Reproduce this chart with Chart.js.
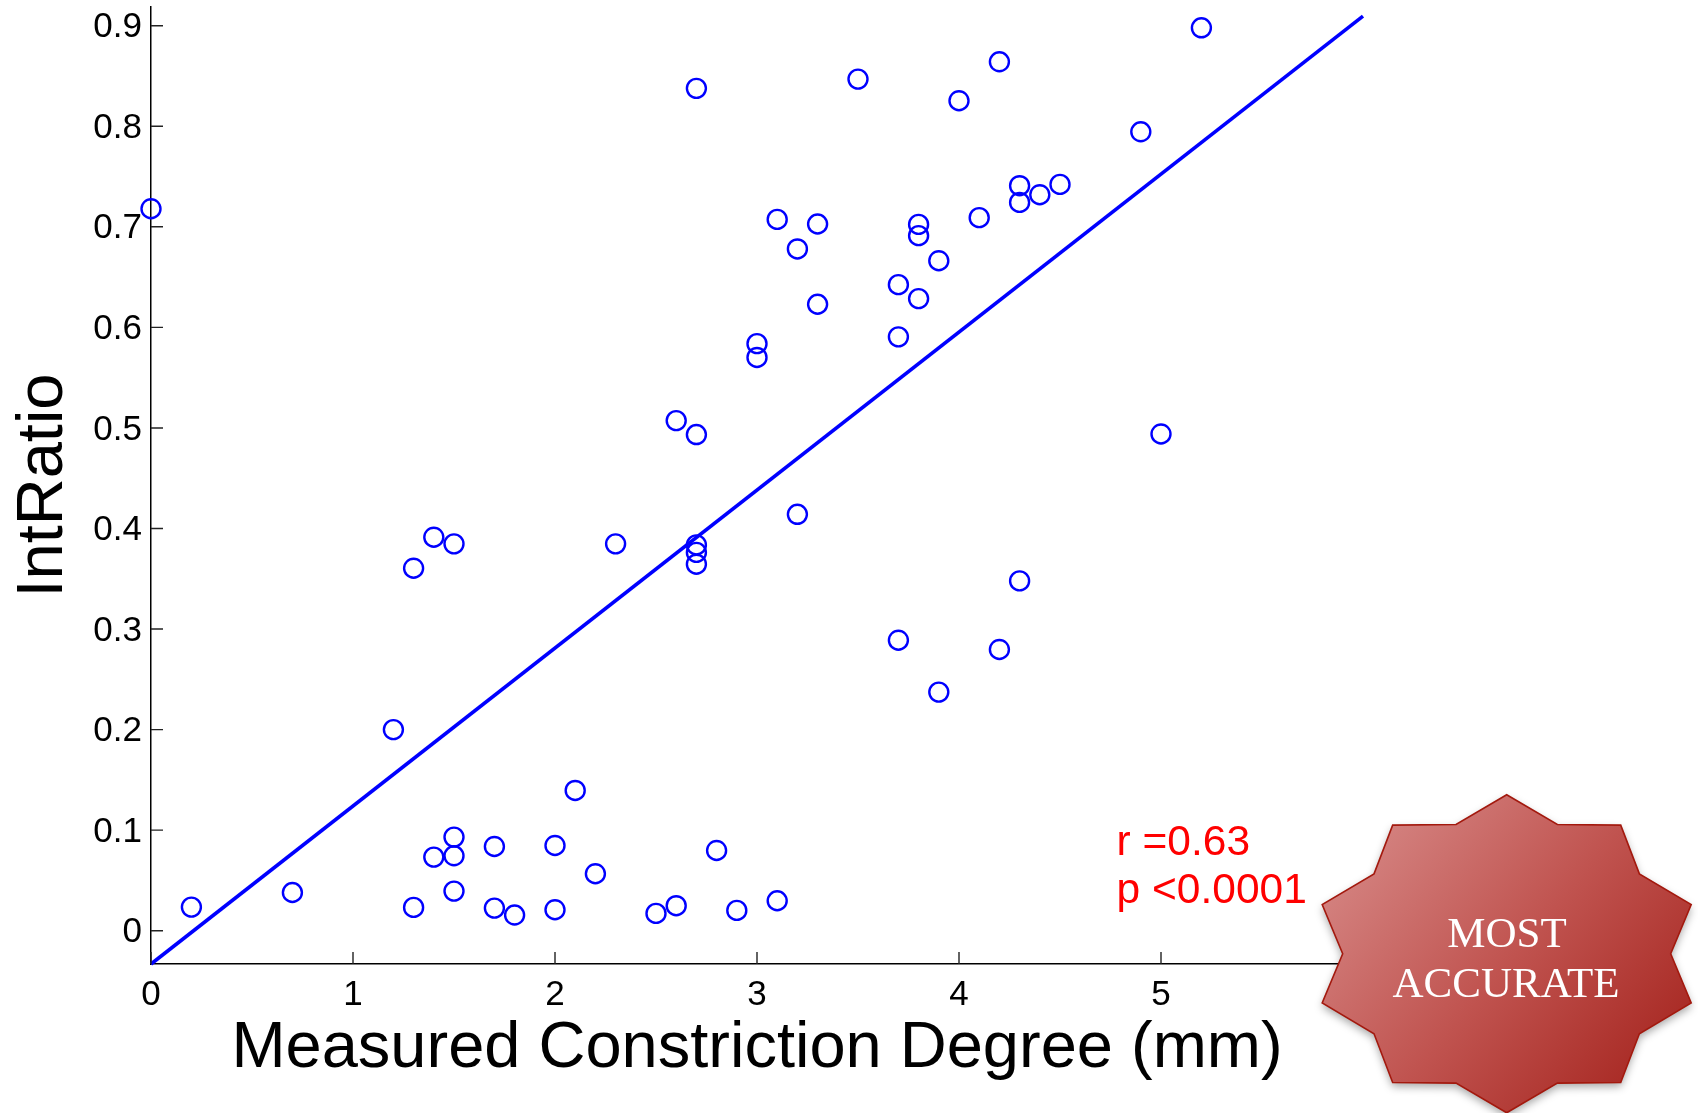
<!DOCTYPE html>
<html>
<head>
<meta charset="utf-8">
<script src="https://cdn.jsdelivr.net/npm/chart.js@4.4.0/dist/chart.umd.min.js"></script>
<style>
html,body{margin:0;padding:0;background:#fff;overflow:hidden}
canvas{display:block}
</style>
</head>
<body>
<canvas id="c" width="1698" height="1113"></canvas>
<script>
// ---- data ----
const xValues = [0, 0.2, 0.7, 1.2, 1.3, 1.3, 1.4, 1.4, 1.5, 1.5, 1.5, 1.5, 1.7, 1.7, 1.8, 2.0, 2.0, 2.1, 2.2, 2.3,
  2.5, 2.6, 2.6, 2.7, 2.7, 2.7, 2.7, 2.7, 2.8, 2.9, 3.0, 3.0, 3.1, 3.1, 3.2, 3.2, 3.3, 3.3, 3.5, 3.7,
  3.7, 3.7, 3.8, 3.8, 3.8, 3.9, 3.9, 4.0, 4.1, 4.2, 4.2, 4.3, 4.3, 4.3, 4.4, 4.5, 4.9, 5.0, 5.2];
const yValues = [0.718, 0.0235, 0.038, 0.200, 0.3605, 0.0232, 0.3913, 0.0732, 0.3847, 0.0931, 0.0745, 0.0394, 0.0838, 0.0225, 0.0156, 0.0848, 0.0209, 0.1395, 0.0567, 0.3847,
  0.0172, 0.0249, 0.5073, 0.8377, 0.4934, 0.3837, 0.3762, 0.3645, 0.0798, 0.0202, 0.5838, 0.5701, 0.7074, 0.0298, 0.678, 0.4141, 0.7028, 0.6230, 0.8469, 0.6425,
  0.5906, 0.2889, 0.7024, 0.6912, 0.6286, 0.6663, 0.2373, 0.8254, 0.7091, 0.8641, 0.2797, 0.7409, 0.7243, 0.3479, 0.7319, 0.7422, 0.7945, 0.494, 0.8979];
const fitX = [0, 6];
const fitY = [-0.0331, 0.9096];
const xTicks = [0, 1, 2, 3, 4, 5, 6];
const xTickLabels = ['0', '1', '2', '3', '4', '5', '6'];
const yTicks = [0, 0.1, 0.2, 0.3, 0.4, 0.5, 0.6, 0.7, 0.8, 0.9];
const yTickLabels = ['0', '0.1', '0.2', '0.3', '0.4', '0.5', '0.6', '0.7', '0.8', '0.9'];
const xRange = [0, 6];
const yRange = [-0.0331, 0.9186];
const xTitle = 'Measured Constriction Degree (mm)';
const yTitle = 'IntRatio';
const statsLines = ['r =0.63', 'p <0.0001'];
const statsX = 4.78;
const statsY = [0.0755, 0.0275];
const badgeLines = ['MOST', 'ACCURATE'];

const SANS = '"Liberation Sans", Arial, Helvetica, sans-serif';
const SERIF = '"Liberation Serif", "Times New Roman", Times, serif';

const labelFor = (ticks, labels, v) => {
  const i = ticks.findIndex(t => Math.abs(t - v) < 1e-9);
  return i >= 0 ? labels[i] : '';
};

const overlay = {
  id: 'overlay',
  afterDraw(chart) {
    const { ctx, chartArea } = chart;
    const xs = chart.scales.x, ys = chart.scales.y;
    ctx.save();
    // inward tick marks
    ctx.strokeStyle = '#222';
    ctx.lineWidth = 1.4;
    ctx.beginPath();
    yTicks.forEach(v => {
      const py = ys.getPixelForValue(v);
      ctx.moveTo(chartArea.left, py);
      ctx.lineTo(chartArea.left + 12, py);
    });
    xTicks.forEach(v => {
      const px = xs.getPixelForValue(v);
      ctx.moveTo(px, chartArea.bottom);
      ctx.lineTo(px, chartArea.bottom - 12);
    });
    ctx.stroke();

    // stats text
    ctx.fillStyle = '#ff0000';
    ctx.font = '42.5px ' + SANS;
    ctx.textAlign = 'left';
    ctx.textBaseline = 'alphabetic';
    statsLines.forEach((t, i) => {
      ctx.fillText(t, xs.getPixelForValue(statsX), ys.getPixelForValue(statsY[i]));
    });

    // badge
    const cx = 1506.7, cy = 953.8, Rx = 194, Ry = 159, rx = 164, ry = 136;
    ctx.beginPath();
    for (let i = 0; i < 20; i++) {
      const a = -Math.PI / 2 + i * Math.PI / 10;
      const outer = i % 2 === 0;
      const px = cx + (outer ? Rx : rx) * Math.cos(a);
      const py = cy + (outer ? Ry : ry) * Math.sin(a);
      if (i === 0) ctx.moveTo(px, py); else ctx.lineTo(px, py);
    }
    ctx.closePath();
    const g = ctx.createLinearGradient(1345, 815, 1680, 1100);
    g.addColorStop(0, '#d78a88');
    g.addColorStop(0.5, '#c0534f');
    g.addColorStop(1, '#a3201a');
    ctx.shadowColor = 'rgba(0,0,0,0.35)';
    ctx.shadowBlur = 8;
    ctx.shadowOffsetY = 4;
    ctx.fillStyle = g;
    ctx.fill();
    ctx.shadowColor = 'rgba(0,0,0,0)';
    ctx.shadowBlur = 0;
    ctx.shadowOffsetY = 0;
    ctx.strokeStyle = '#a3190e';
    ctx.lineWidth = 1.6;
    ctx.stroke();
    ctx.fillStyle = '#ffffff';
    ctx.font = '43px ' + SERIF;
    ctx.textAlign = 'center';
    ctx.fillText(badgeLines[0], 1507, 946.7);
    ctx.fillText(badgeLines[1], 1506, 996.7);
    ctx.restore();
  }
};

Chart.defaults.font.family = SANS;

new Chart(document.getElementById('c'), {
  type: 'scatter',
  data: {
    datasets: [
      {
        type: 'line',
        data: fitX.map((v, i) => ({ x: v, y: fitY[i] })),
        borderColor: '#0000ff',
        borderWidth: 3.6,
        pointRadius: 0,
        fill: false,
        tension: 0,
        clip: false,
        order: 1
      },
      {
        data: xValues.map((v, i) => ({ x: v, y: yValues[i] })),
        pointStyle: 'circle',
        pointRadius: 9.5,
        pointBorderWidth: 2.4,
        borderColor: '#0000ff',
        backgroundColor: 'rgba(0,0,0,0)',
        clip: false,
        order: 0
      }
    ]
  },
  options: {
    responsive: false,
    animation: false,
    devicePixelRatio: 1,
    events: [],
    layout: { autoPadding: false, padding: { left: 0, top: 7, right: 335, bottom: 0 } },
    plugins: { legend: { display: false }, tooltip: { enabled: false } },
    scales: {
      x: {
        type: 'linear',
        min: xRange[0],
        max: xRange[1],
        afterBuildTicks: s => { s.ticks = xTicks.map(v => ({ value: v })); },
        afterFit: s => { s.height = 149; s.paddingLeft = 0; s.paddingRight = 0; s.paddingTop = 0; s.paddingBottom = 0; },
        grid: { display: false, drawTicks: false },
        border: { display: true, color: '#000', width: 1.5 },
        ticks: {
          callback: v => labelFor(xTicks, xTickLabels, v),
          color: '#000',
          font: { family: SANS, size: 35 },
          padding: 10,
          maxRotation: 0,
          autoSkip: false
        },
        title: {
          display: true,
          text: xTitle,
          color: '#000',
          font: { family: SANS, size: 65 },
          padding: { top: 0, bottom: 24.5 }
        }
      },
      y: {
        type: 'linear',
        min: yRange[0],
        max: yRange[1],
        afterBuildTicks: s => { s.ticks = yTicks.map(v => ({ value: v })); },
        afterFit: s => { s.width = 151; s.paddingTop = 0; s.paddingBottom = 0; s.paddingLeft = 0; s.paddingRight = 0; },
        grid: { display: false, drawTicks: false },
        border: { display: true, color: '#000', width: 1.5 },
        ticks: {
          callback: v => labelFor(yTicks, yTickLabels, v),
          color: '#000',
          font: { family: SANS, size: 35 },
          padding: 9,
          labelOffset: 2,
          autoSkip: false
        },
        title: {
          display: true,
          text: yTitle,
          color: '#000',
          font: { family: SANS, size: 65 },
          padding: { top: 5, bottom: 0 }
        }
      }
    }
  },
  plugins: [overlay]
});
</script>
</body>
</html>
